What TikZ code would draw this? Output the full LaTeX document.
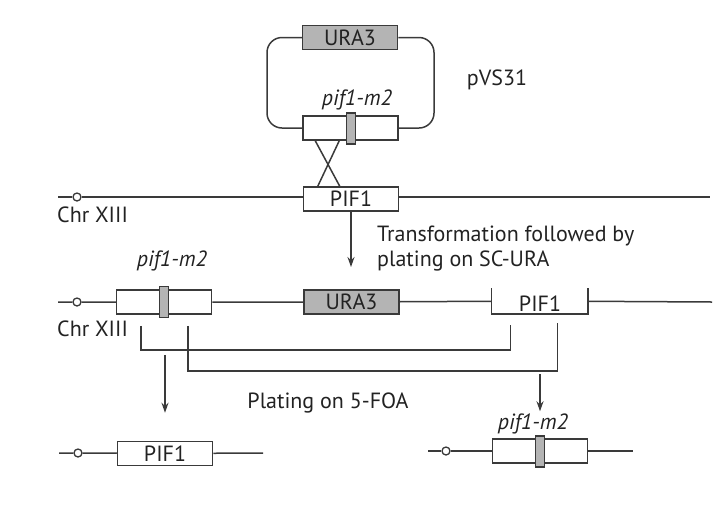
\documentclass[tikz,border=0pt]{standalone}
\usepackage{fontspec}
\setmainfont{PT Sans}
\usetikzlibrary{calc,arrows.meta}

\definecolor{linec}{HTML}{3A3A3A}
\definecolor{geneg}{HTML}{B4B4B4}
\definecolor{textc}{HTML}{222222}

\begin{document}
\begin{tikzpicture}[
  x=1pt,y=-1pt,
  every node/.style={text=textc},
  gene/.style={draw=linec, fill=white, line width=1.5pt, minimum width=95pt, minimum height=24pt, inner sep=0pt, font=\fontsize{22}{24}\selectfont},
  ura/.style={gene, fill=geneg},
  mutbar/.style={draw=linec, fill=geneg, line width=1.3pt, minimum width=9pt, minimum height=31pt, inner sep=0pt},
  origin/.style={circle, draw=linec, fill=white, line width=1.3pt, minimum size=8pt, inner sep=0pt},
  chrom/.style={draw=linec, line width=1.5pt},
  allele/.style={font=\fontsize{22}{24}\selectfont\itshape, anchor=base, inner sep=0pt},
  note/.style={font=\fontsize{22}{25}\selectfont, align=left, inner sep=0pt},
  flow/.style={-{Stealth[length=10pt,width=7pt]}, draw=linec, line width=1.5pt}
]

% Canvas
\path[use as bounding box] (0,0) rectangle (719,504);

% Plasmid pVS31
\node[ura] (ura3a) at (350,37.5) {URA3};
\node[gene] (mta) at (350.5,128) {};
\node[mutbar] (bara) at (351,128.5) {};
\node[allele] (lbla) at (357,105) {pif1-m2};
\node[note] (pvs) at (497,80) {pVS31};
\draw[chrom, rounded corners=15pt] (ura3a.east) -| (434,128) -- (mta.east);
\draw[chrom, rounded corners=15pt] (ura3a.west) -| (267,128) -- (mta.west);

% Chromosome XIII before
\coordinate (c1s) at (58,197);
\coordinate (c1e) at (710,197);
\node[origin] (ori1) at (77,197) {};
\node[gene] (pif1a) at (351,199) {PIF1};
\node[note, anchor=base west] (chr1) at (57,222) {Chr XIII};
\draw[chrom] (c1s) -- (ori1) -- (c1e);
\node[gene] at (pif1a) {PIF1};

% Crossover
\draw[chrom] ($(mta.south west)+(13,0)$) -- ($(pif1a.north west)+(37,0)$);
\draw[chrom] ($(mta.south west)+(37,0)$) -- ($(pif1a.north west)+(15,0)$);

% Transformation
\coordinate (a1e) at (351,267);
\draw[flow] (pif1a) -- (a1e);
\node[note, anchor=north west] (trans) at (377,226) {Transformation followed by\\plating on SC-URA};

% Integrated plasmid
\coordinate (c2s) at (58,302);
\coordinate (c2e) at (712,302);
\node[origin] (ori2) at (77,302) {};
\node[gene] (mtb) at (164,302) {};
\node[ura] (ura3b) at (351.5,302) {URA3};
\node[gene, draw=none, fill=none] (pif1b) at (539.5,301) {};
\draw[chrom] (c2s) -- (ori2) -- (mtb) -- (ura3b) -- (pif1b) -- (c2e);
\node[mutbar] (barb) at (164,302) {};
\node[allele] (lblb) at (172,266) {pif1-m2};
\draw[chrom] (pif1b.north west) -- (pif1b.south west) -- (pif1b.south east) -- (pif1b.north east);
\node[gene, draw=none, fill=none, anchor=center] at (540,304) {PIF1};
\node[note, anchor=base west] (chr2) at (57,336) {Chr XIII};

% Pop-out recombination
\draw[chrom] ($(mtb.south west)+(25,11)$) -- ++(0,24) -| ($(pif1b.south west)+(19,11)$);
\draw[chrom] ($(mtb.south west)+(72,11)$) -- ++(0,45) -| ($(pif1b.south west)+(66,9)$);

% Products
\node[origin] (ori3) at (78,453) {};
\node[gene] (pif1c) at (165,453.5) {PIF1};
\coordinate (c3s) at (59,453);
\coordinate (c3e) at (263,453);
\draw[chrom] (c3s) -- (ori3) -- (pif1c) -- (c3e);

\node[origin] (ori4) at (446,451) {};
\node[gene] (mtc) at (540,451) {};
\coordinate (c4s) at (428,451);
\coordinate (c4e) at (633,451);
\draw[chrom] (c4s) -- (ori4) -- (mtc) -- (c4e);
\node[mutbar] (barc) at (540,451.5) {};
\node[allele] (lblc) at (533,429) {pif1-m2};

\draw[flow] ($(pif1c.north)+(0,-86)$) -- ($(pif1c.north)+(0,-28)$);
\draw[flow] ($(mtc.north)+(0,-64)$) -- ($(mtc.north)+(0,-27)$);
\node[note] (foa) at (328,403) {Plating on 5-FOA};

\end{tikzpicture}
\end{document}
